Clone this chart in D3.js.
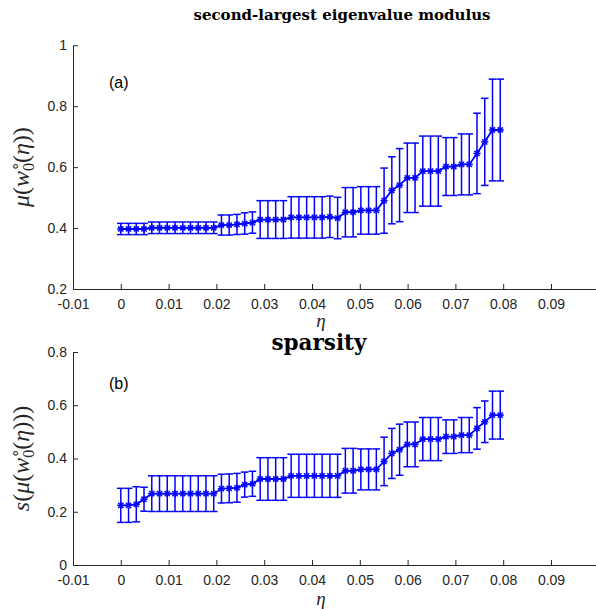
<!DOCTYPE html>
<html>
<head>
<meta charset="utf-8">
<script src="https://cdn.jsdelivr.net/npm/d3@7/dist/d3.min.js"></script>
<style>
  html, body { margin: 0; padding: 0; background: #fff; }
  svg { display: block; }
</style>
</head>
<body>
<svg id="chart" width="596" height="609"></svg>
<script>
// ---------------- data ----------------
const eta = [0, 0.00162, 0.00324, 0.00486, 0.00648, 0.0081, 0.00972, 0.01134, 0.01296, 0.01458,
  0.0162, 0.01782, 0.01944, 0.02106, 0.02268, 0.0243, 0.02592, 0.02754, 0.02916, 0.03078,
  0.0324, 0.03402, 0.03564, 0.03726, 0.03888, 0.0405, 0.04212, 0.04374, 0.04536, 0.04698,
  0.0486, 0.05022, 0.05184, 0.05346, 0.05508, 0.0567, 0.05832, 0.05994, 0.06156, 0.06318,
  0.0648, 0.06642, 0.06804, 0.06966, 0.07128, 0.0729, 0.07452, 0.07614, 0.07776, 0.07938];

const muMean = [0.397, 0.397, 0.397, 0.397,
  0.401, 0.401, 0.401, 0.401, 0.401, 0.401, 0.401, 0.401, 0.401,
  0.410, 0.410, 0.412,
  0.415, 0.418,
  0.428, 0.428, 0.428, 0.428,
  0.435, 0.435, 0.435, 0.435, 0.435, 0.437, 0.433,
  0.452, 0.452,
  0.458, 0.458, 0.458,
  0.490, 0.524, 0.541,
  0.565, 0.565,
  0.587, 0.587, 0.587,
  0.602, 0.602,
  0.609, 0.609,
  0.645, 0.683,
  0.722, 0.722];

const muErr = [0.0185, 0.0185, 0.0185, 0.0185,
  0.019, 0.019, 0.019, 0.019, 0.019, 0.019, 0.019, 0.019, 0.019,
  0.033, 0.033, 0.033,
  0.035, 0.035,
  0.062, 0.062, 0.062, 0.062,
  0.068, 0.068, 0.068, 0.068, 0.068, 0.068, 0.068,
  0.081, 0.081,
  0.078, 0.078, 0.078,
  0.107, 0.110, 0.120,
  0.114, 0.114,
  0.115, 0.115, 0.115,
  0.095, 0.095,
  0.100, 0.100,
  0.132, 0.143,
  0.167, 0.167];

const sMean = [0.224, 0.224, 0.228, 0.247,
  0.268, 0.268, 0.268, 0.268, 0.268, 0.268, 0.268, 0.268, 0.268,
  0.287, 0.288, 0.290,
  0.302, 0.305,
  0.323, 0.323, 0.323, 0.323,
  0.335, 0.335, 0.335, 0.335, 0.335, 0.335, 0.335,
  0.354, 0.354,
  0.359, 0.359, 0.359,
  0.389, 0.419, 0.433,
  0.453, 0.453,
  0.473, 0.473, 0.473,
  0.482, 0.482,
  0.488, 0.488,
  0.513, 0.538,
  0.563, 0.563];

const sErr = [0.064, 0.064, 0.066, 0.045,
  0.067, 0.067, 0.067, 0.067, 0.067, 0.067, 0.067, 0.067, 0.067,
  0.054, 0.054, 0.054,
  0.047, 0.047,
  0.080, 0.080, 0.080, 0.080,
  0.081, 0.081, 0.081, 0.081, 0.081, 0.081, 0.081,
  0.084, 0.084,
  0.077, 0.077, 0.077,
  0.091, 0.094, 0.096,
  0.084, 0.084,
  0.081, 0.081, 0.081,
  0.063, 0.063,
  0.066, 0.066,
  0.078, 0.078,
  0.090, 0.090];

const xTicks = [-0.01, 0, 0.01, 0.02, 0.03, 0.04, 0.05, 0.06, 0.07, 0.08, 0.09];
const xTickLabels = ["-0.01", "0", "0.01", "0.02", "0.03", "0.04", "0.05", "0.06", "0.07", "0.08", "0.09"];
const yTicksTop = [0.2, 0.4, 0.6, 0.8, 1];
const yTickLabelsTop = ["0.2", "0.4", "0.6", "0.8", "1"];
const yTicksBot = [0, 0.2, 0.4, 0.6, 0.8];
const yTickLabelsBot = ["0", "0.2", "0.4", "0.6", "0.8"];

// ---------------- drawing ----------------
const svg = d3.select("#chart");
const axisColor = "#262626";
const blue = "#0000ff";

const x = d3.scaleLinear().domain([-0.01, 0.1]).range([73, 598.8]);

function panel(cfg) {
  const y = d3.scaleLinear().domain(cfg.yDomain).range(cfg.yRange);
  const g = svg.append("g");

  // x axis
  const xa = d3.axisBottom(x).tickValues(xTicks)
    .tickFormat((d, i) => xTickLabels[i])
    .tickSizeInner(-5).tickSizeOuter(0).tickPadding(10);
  const gx = g.append("g").attr("transform", `translate(0,${cfg.yRange[0]})`).call(xa);
  // y axis
  const ya = d3.axisLeft(y).tickValues(cfg.yTicks)
    .tickFormat((d, i) => cfg.yLabels[i])
    .tickSizeInner(-5).tickSizeOuter(0).tickPadding(6);
  const gy = g.append("g").attr("transform", `translate(${x.range()[0]},0)`).call(ya);

  [gx, gy].forEach(a => {
    a.selectAll("path.domain").attr("stroke", axisColor).attr("stroke-width", 1);
    a.selectAll(".tick line").attr("stroke", axisColor).attr("stroke-width", 1);
    a.selectAll(".tick text").attr("fill", axisColor)
      .style("font-family", "'Liberation Sans', Arial, sans-serif").style("font-size", "14px");
  });

  const pts = eta.map((e, i) => ({ e, m: cfg.mean[i], s: cfg.err[i] }));
  const cap = 3.8;
  const eb = g.append("g").attr("stroke", blue).attr("stroke-width", 1.5).attr("fill", "none");
  pts.forEach(p => {
    const px = x(p.e), y1 = y(p.m + p.s), y0 = y(p.m - p.s);
    eb.append("line").attr("x1", px).attr("x2", px).attr("y1", y1).attr("y2", y0);
    eb.append("line").attr("x1", px - cap).attr("x2", px + cap).attr("y1", y1).attr("y2", y1);
    eb.append("line").attr("x1", px - cap).attr("x2", px + cap).attr("y1", y0).attr("y2", y0);
  });

  const line = d3.line().x(p => x(p.e)).y(p => y(p.m));
  g.append("path").datum(pts).attr("d", line)
    .attr("fill", "none").attr("stroke", blue).attr("stroke-width", 1.8);

  const mk = g.append("g").attr("stroke", blue).attr("stroke-width", 1.5);
  const r = 3.6, rd = 2.6;
  pts.forEach(p => {
    const px = x(p.e), py = y(p.m);
    mk.append("line").attr("x1", px - r).attr("x2", px + r).attr("y1", py).attr("y2", py);
    mk.append("line").attr("x1", px).attr("x2", px).attr("y1", py - r).attr("y2", py + r);
    mk.append("line").attr("x1", px - rd).attr("x2", px + rd).attr("y1", py - rd).attr("y2", py + rd);
    mk.append("line").attr("x1", px - rd).attr("x2", px + rd).attr("y1", py + rd).attr("y2", py - rd);
  });

  // panel label
  g.append("text").attr("x", 109).attr("y", cfg.labelY)
    .style("font-family", "'Liberation Sans', Arial, sans-serif").style("font-size", "16px")
    .attr("fill", "#000").text(cfg.panelLabel);

  // title
  g.append("text").attr("x", cfg.titleX).attr("y", cfg.titleY).attr("text-anchor", "middle")
    .style("font-family", "'DejaVu Serif', serif").style("font-weight", "bold")
    .style("font-size", cfg.titleSize).attr("fill", "#000").text(cfg.title);

  // x label
  g.append("text").attr("x", 321).attr("y", cfg.xLabelY).attr("text-anchor", "middle")
    .style("font-family", "'Liberation Serif', serif").style("font-style", "italic")
    .style("font-size", "19px").attr("fill", axisColor).text("η");

  // y label
  const cy = (cfg.yRange[0] + cfg.yRange[1]) / 2;
  const yl = g.append("text").attr("transform", `translate(29,${cy}) rotate(-90)`)
    .attr("text-anchor", "middle")
    .style("font-family", "'Liberation Serif', serif").style("font-style", "italic")
    .style("font-size", "24px").attr("fill", axisColor);
  cfg.yLabelParts.forEach(pt => {
    const t = yl.append("tspan").text(pt.t);
    if (pt.dy) t.attr("dy", pt.dy);
    if (pt.dx) t.attr("dx", pt.dx);
    if (pt.size) t.style("font-size", pt.size);
    if (pt.upright) t.style("font-style", "normal");
  });
}

const wParts = [
  { t: "w" },
  { t: "∘", dy: "-9", size: "15px", upright: true },
  { t: "0", dy: "14", dx: "-9", size: "16px", upright: true },
  { t: "(", dy: "-5", upright: true },
  { t: "η" },
  { t: "))", upright: true }
];

panel({
  yDomain: [0.2, 1], yRange: [289, 45.3],
  yTicks: yTicksTop, yLabels: yTickLabelsTop,
  mean: muMean, err: muErr,
  panelLabel: "(a)", labelY: 88,
  title: "second-largest eigenvalue modulus", titleX: 342, titleY: 20, titleSize: "15px",
  xLabelY: 327,
  yLabelParts: [{ t: "μ" }, { t: "(", upright: true }].concat(wParts)
});

panel({
  yDomain: [0, 0.8], yRange: [565, 352],
  yTicks: yTicksBot, yLabels: yTickLabelsBot,
  mean: sMean, err: sErr,
  panelLabel: "(b)", labelY: 389,
  title: "sparsity", titleX: 319, titleY: 350, titleSize: "21.5px",
  xLabelY: 605,
  yLabelParts: [{ t: "s" }, { t: "(", upright: true }, { t: "μ" }, { t: "(", upright: true }]
    .concat(wParts.slice(0, 5)).concat([{ t: ")))", upright: true }])
});
</script>
</body>
</html>
